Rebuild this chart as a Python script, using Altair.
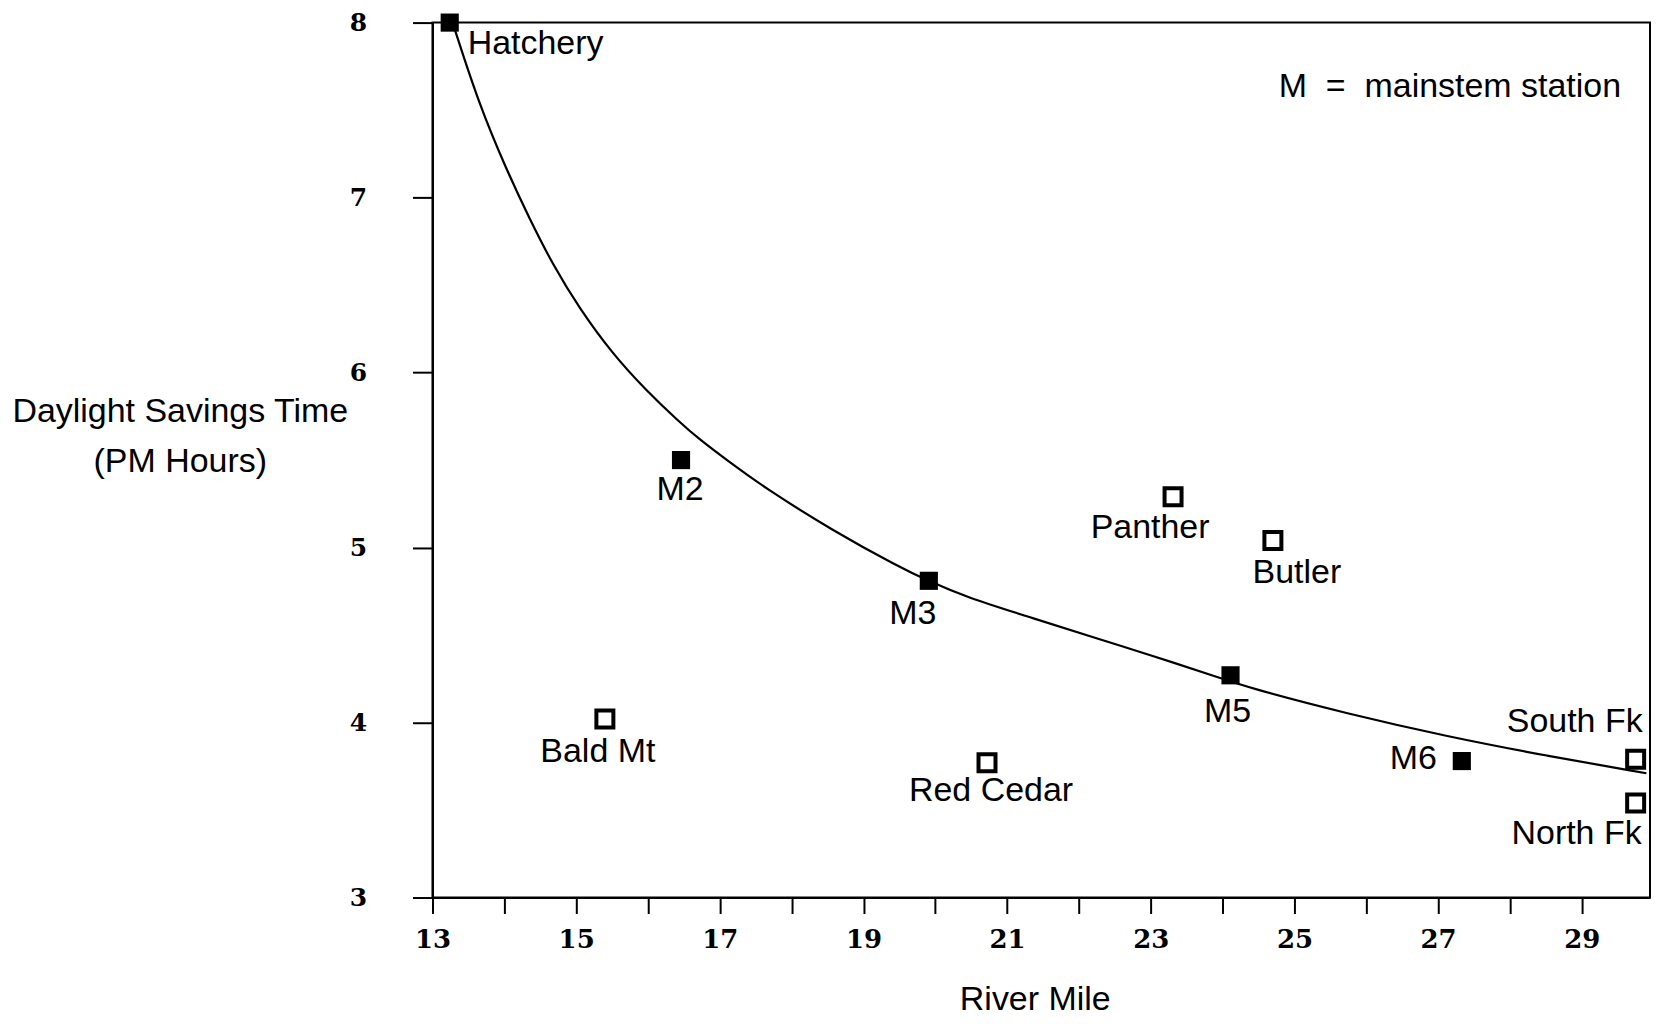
import altair as alt
import pandas as pd

# ---- data ----
station = ["Hatchery", "M2", "M3", "M5", "M6",
           "Panther", "Butler", "Bald Mt", "Red Cedar", "South Fk", "North Fk"]
river_mile = [13.24, 16.46, 19.91, 24.11, 27.33,
              23.31, 24.70, 15.40, 20.72, 29.75, 29.75]
pm_hours = [8.00, 5.50, 4.81, 4.27, 3.78,
            5.29, 5.04, 4.02, 3.77, 3.79, 3.54]
station_type = ["mainstem"] * 5 + ["tributary"] * 6

curve_mile = [13.28, 13.65, 14.03, 14.35, 14.67, 15.04, 15.50, 15.97, 16.43,
              16.71, 17.13, 17.63, 18.56, 19.49, 19.90, 20.41, 21.33, 22.26,
              22.96, 23.93, 24.35, 25.74, 27.13, 28.51, 29.90]
curve_hours = [8.00, 7.53, 7.16, 6.88, 6.62, 6.37, 6.11, 5.90, 5.72,
               5.62, 5.49, 5.34, 5.10, 4.89, 4.81, 4.72, 4.60, 4.48,
               4.39, 4.26, 4.20, 4.05, 3.92, 3.81, 3.71]

x_ticks = list(range(13, 30))
y_ticks = [3, 4, 5, 6, 7, 8]
note_text = ["M\u00a0\u00a0=\u00a0\u00a0mainstem station"]
y_title = ["Daylight Savings Time", "(PM Hours)"]
x_title = "River Mile"

points = pd.DataFrame({"station": station, "mile": river_mile,
                       "hours": pm_hours, "type": station_type})
curve = pd.DataFrame({"mile": curve_mile, "hours": curve_hours})
note = pd.DataFrame({"note": note_text})

# ---- styling ----
SANS = "Liberation Sans"
SERIF = "DejaVu Serif"
FS = 34

x_enc = alt.X(
    "mile:Q",
    scale=alt.Scale(domain=[13, 29.95], nice=False, zero=False),
    axis=alt.Axis(
        values=x_ticks,
        labelExpr="datum.value % 2 == 1 ? datum.label : ''",
        labelOverlap=False, labelFlush=False,
        tickSize=16, tickWidth=2, tickColor="black",
        domainColor="black", domainWidth=2, grid=False,
        labelFont=SERIF, labelFontWeight="bold", labelFontSize=26,
        labelColor="black", labelPadding=13,
        title=x_title, titleFont=SANS, titleFontSize=FS,
        titleFontWeight="normal", titleColor="black",
        titleX=603, titleY=102, titleAlign="center", titleBaseline="middle",
    ),
)
y_enc = alt.Y(
    "hours:Q",
    scale=alt.Scale(domain=[3, 8], nice=False, zero=False),
    axis=alt.Axis(
        values=y_ticks, labelOverlap=False,
        tickSize=20, tickWidth=2, tickColor="black",
        domainColor="black", domainWidth=2, grid=False,
        labelFont=SERIF, labelFontWeight="bold", labelFontSize=25,
        labelColor="black", labelPadding=46, labelBaseline="middle",
        title=y_title, titleFont=SANS, titleFontSize=FS,
        titleFontWeight="normal", titleColor="black", titleAngle=0,
        titleX=-253, titleY=399, titleAlign="center",
        titleBaseline="alphabetic", titleLineHeight=50,
    ),
)

line = alt.Chart(curve).mark_line(
    color="black", strokeWidth=2.2, interpolate="basis"
).encode(x=x_enc, y=y_enc)

filled = alt.Chart(points).transform_filter(
    alt.datum.type == "mainstem"
).mark_point(
    shape="square", filled=True, color="black", size=330, opacity=1
).encode(x=x_enc, y=y_enc)

hollow = alt.Chart(points).transform_filter(
    alt.datum.type == "tributary"
).mark_point(
    shape="square", filled=False, stroke="black", fill="white",
    fillOpacity=1, strokeWidth=4, size=289, opacity=1
).encode(x=x_enc, y=y_enc)

# label placement relative to each marker: (dx, dy, align)
LABEL_STYLE = {
    "Hatchery": (18, 21, "left"),
    "M2": (-1, 30, "center"),
    "M3": (-16, 33, "center"),
    "M5": (-3, 37, "center"),
    "M6": (-25, -2, "right"),
    "Panther": (-23, 31, "center"),
    "Butler": (24, 32, "center"),
    "Bald Mt": (-7, 33, "center"),
    "Red Cedar": (4, 28, "center"),
    "South Fk": (7, -37, "right"),
    "North Fk": (6, 31, "right"),
}

label_layers = []
for name, (dx, dy, align) in LABEL_STYLE.items():
    label_layers.append(
        alt.Chart(points).transform_filter(alt.datum.station == name)
        .mark_text(font=SANS, fontSize=FS, color="black", dx=dx, dy=dy,
                   align=align, baseline="middle")
        .encode(x=x_enc, y=y_enc, text="station:N")
    )

note_layer = alt.Chart(note).mark_text(
    font=SANS, fontSize=FS, color="black", align="right", baseline="middle"
).encode(x=alt.value(1190), y=alt.value(64), text="note:N")

chart = alt.layer(line, filled, hollow, *label_layers, note_layer).properties(
    width=1219, height=876,
    autosize=alt.AutoSizeParams(type="none"),
    padding={"left": 425, "top": 14, "right": 5, "bottom": 120},
    background="white",
).configure_view(stroke="black", strokeWidth=2)

chart.save("out.html", embed_options={"renderer": "svg", "actions": False})
